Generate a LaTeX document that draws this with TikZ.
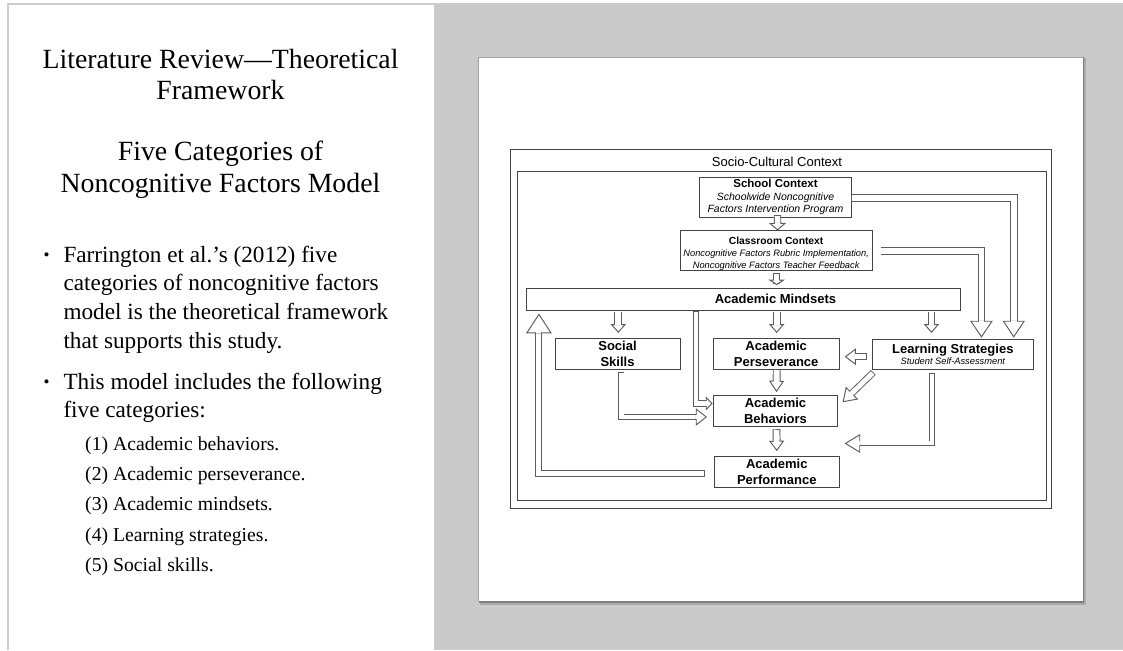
\documentclass[tikz,border=0pt]{standalone}
\usepackage{fontspec}
\setmainfont{Liberation Serif}
\newfontfamily\arial{Liberation Sans}
\usetikzlibrary{calc}
\definecolor{panelgray}{HTML}{C9CAC9}
\definecolor{framegray}{HTML}{CDCDCD}
\definecolor{boxline}{HTML}{444444}
\definecolor{arrline}{HTML}{5C5C5C}
\definecolor{shadowdark}{HTML}{7E7E7E}
\definecolor{shadowlight}{HTML}{A9AAA9}
\definecolor{pageedge}{HTML}{A4A4A4}
\tikzset{
  box/.style={draw=boxline, line width=0.9pt, inner sep=0pt, align=center,
    font=\arial\fontsize{13}{16.2}\selectfont\bfseries},
  ctx/.style={draw=boxline, line width=0.8pt, inner sep=0pt, align=center},
  ctxbox/.style={draw=boxline, line width=0.9pt, inner sep=0pt},
  shaft/.style={draw=arrline, line width=0.95pt, double=white, double distance=#1,
    line cap=rect, line join=miter},
  shaft/.default=4.5pt,
  ahead/.style={draw=arrline, fill=white, line width=0.95pt, line join=miter},
  titletext/.style={anchor=base, inner sep=0pt, font=\fontsize{27.8}{32}\selectfont},
  lefttext/.style={anchor=base west, inner sep=0pt, font=\fontsize{23.2}{28}\selectfont},
  subtext/.style={anchor=base west, inner sep=0pt, font=\fontsize{19.7}{24}\selectfont},
  bul/.style={anchor=base, inner sep=0pt, font=\fontsize{17}{17}\selectfont},
}
\newcommand\ahd[5]{%
  \coordinate (ahfrom) at #1; \coordinate (ahtip) at #2;
  \coordinate (ahbase) at ($(ahtip)!#3!(ahfrom)$);
  \filldraw[ahead] ($(ahbase)!#4!90:(ahtip)$) -- (ahtip) -- ($(ahbase)!#4!-90:(ahtip)$) -- cycle;
  \draw[white, line width=1.3pt] ($(ahbase)!0.5*#5!90:(ahtip)$) -- ($(ahbase)!0.5*#5!-90:(ahtip)$);}
\newcommand\blockarrow[5]{%
  \coordinate (batail) at #1; \coordinate (batip) at #2;
  \coordinate (babase) at ($(batip)!#3!(batail)$);
  \draw[shaft=#5] (batail) -- (babase);
  \ahd{(batail)}{(batip)}{#3}{#4}{#5}}
\begin{document}
\begin{tikzpicture}[x=1pt,y=-1pt]
\useasboundingbox (0,0) rectangle (1123,650);
\fill[white] (0,0) rectangle (1123,650);
\fill[panelgray] (434.3,3.5) rectangle (1123,650);
\draw[framegray, line width=1.6pt] (8.2,650) -- (8.2,4.2) -- (1123,4.2);
% page
\fill[shadowlight] (479.5,58) rectangle (1086,604.5);
\fill[shadowdark] (479,57.5) rectangle (1084,602.5);
\fill[white] (478.3,56.7) rectangle (1082.7,600.7);
\draw[pageedge, line width=0.6pt] (478.6,600.7) -- (478.6,57) -- (1082.7,57);
% left panel text
\node[titletext] (t1) at (220.5,68.3) {Literature Review—Theoretical};
\node[titletext] (t2) at (220.5,99.5) {Framework};
\node[titletext] (t3) at (220.5,160) {Five Categories of};
\node[titletext] (t4) at (220.5,192.5) {Noncognitive Factors Model};
\node[bul] (b1) at (46.7,262) {\raisebox{2pt}{•}};
\node[lefttext] (l1) at (63.3,262) {Farrington et al.’s (2012) five};
\node[lefttext] (l2) at (63.3,290.5) {categories of noncognitive factors};
\node[lefttext] (l3) at (63.3,319) {model is the theoretical framework};
\node[lefttext] (l4) at (63.3,348) {that supports this study.};
\node[bul] (b2) at (46.7,389) {\raisebox{2pt}{•}};
\node[lefttext] (l5) at (63.3,389) {This model includes the following};
\node[lefttext] (l6) at (63.3,417.5) {five categories:};
\node[subtext] (s1) at (85,450.3) {(1) Academic behaviors.};
\node[subtext] (s2) at (85,480.5) {(2) Academic perseverance.};
\node[subtext] (s3) at (85,510.7) {(3) Academic mindsets.};
\node[subtext] (s4) at (85,541) {(4) Learning strategies.};
\node[subtext] (s5) at (85,571) {(5) Social skills.};
% diagram frames
\node[ctxbox, minimum width=541.5, minimum height=359.2] (outer) at (780.75,328.9) {};
\node[ctxbox, minimum width=528.5, minimum height=329] (inner) at (781.75,335.5) {};
\node[anchor=base, inner sep=0pt, font=\arial\fontsize{13}{15}\selectfont] (sct) at (777,166.5) {Socio-Cultural Context};
% boxes
\node[ctx, minimum width=152.4, minimum height=40, font=\arial\fontsize{10.5}{12.6}\selectfont\itshape] (sc) at (775.5,197.3)
  {{\upshape\bfseries\fontsize{11.5}{12.6}\selectfont School Context}\\Schoolwide Noncognitive\\Factors Intervention Program};
\node[ctx, minimum width=192.3, minimum height=40.4, font=\arial\fontsize{9.3}{12.2}\selectfont\itshape] (cc) at (776.15,250.5)
  {{\upshape\bfseries\fontsize{10.3}{12.2}\selectfont\rule{0pt}{13.5pt}Classroom Context}\\Noncognitive Factors Rubric Implementation,\\Noncognitive Factors Teacher Feedback};
\node[ctx, minimum width=433.6, minimum height=21.7] (ms) at (743.5,299.15) {};
\node[anchor=base, inner sep=0pt, font=\arial\fontsize{13}{16}\selectfont\bfseries] (msl) at (775.5,303.3) {Academic Mindsets};
\node[box, minimum width=125, minimum height=31] (ss) at (617.5,353.8) {Social\\Skills};
\node[box, minimum width=125.7, minimum height=31] (ap) at (776.15,353.8) {Academic\\Perseverance};
\node[box, minimum width=161, minimum height=30] (ls) at (952.8,354.3)
  {Learning Strategies\\[-4.5pt]{\mdseries\itshape\fontsize{9.3}{11}\selectfont Student Self-Assessment}};
\node[box, minimum width=124.4, minimum height=31.4] (ab) at (775.5,411) {Academic\\Behaviors};
\node[box, minimum width=125, minimum height=31.3] (apf) at (776.8,471.65) {Academic\\Performance};
% straight block arrows
\blockarrow{($(sc.south)+(2,1.2)$)}{($(cc.north)+(1.5,0)$)}{6.5pt}{7.5pt}{5.5pt}
\blockarrow{($(cc.south)+(0.5,6)$)}{($(ms.north -| cc.south)+(0.5,-3.3)$)}{4.5pt}{6.7pt}{5.5pt}
\blockarrow{($(ss.north |- ms.south)+(0.8,5)$)}{($(ss.north)+(0.8,-5.6)$)}{7.7pt}{6.7pt}{5.9pt}
\blockarrow{($(ap.north |- ms.south)+(0.5,5)$)}{($(ap.north)+(0.5,-5.6)$)}{7.7pt}{6.7pt}{5.9pt}
\blockarrow{($(ls.north |- ms.south)+(-21.3,5)$)}{($(ls.north)+(-21.3,-6.6)$)}{7.7pt}{6.7pt}{5.9pt}
\blockarrow{($(ap.south)+(0.5,3.4)$)}{($(ab.north)+(1,-3.6)$)}{10pt}{6.7pt}{5.9pt}
\blockarrow{($(ab.south)+(1,6)$)}{($(apf.north)+(0,-5.3)$)}{9pt}{6.7pt}{5.9pt}
\blockarrow{($(ls.west)+(-8,2.4)$)}{($(ap.east)+(6,2.9)$)}{10pt}{7.5pt}{5.1pt}
\blockarrow{($(ls.south west)+(-1,5)$)}{($(ab.east)+(5,-9.3)$)}{12pt}{8pt}{4.9pt}
% bent block arrows
\draw[shaft=4.4pt] ($(ss.south)+(3.8,5.7)$) |- ($(ab.west)+(-16.6,6)$);
\ahd{($(ab.west)+(-30,6)$)}{($(ab.west)+(-6.6,6)$)}{10pt}{7.85pt}{4.4pt}
\draw[shaft=4.4pt] ($(ms.south -| ab.west)+(-17,4)$) |- ($(ab.west)+(-6.6,-7.5)$);
\ahd{($(ab.west)+(-20,-7.5)$)}{($(ab.west)+(-1,-7.5)$)}{5.6pt}{6pt}{4.4pt}
\draw[shaft=5.9pt] ($(sc.east)+(3,0.7)$) -| ($(ls.north east)+(-20,-17.6)$);
\ahd{($(ls.north east)+(-20,-40)$)}{($(ls.north east)+(-20,-2)$)}{15.6pt}{10.3pt}{5.9pt}
\draw[shaft=5.9pt] ($(cc.east)+(11.7,0.3)$) -| ($(ls.north east)+(-52.3,-17.6)$);
\ahd{($(ls.north east)+(-52.3,-40)$)}{($(ls.north east)+(-52.3,-2)$)}{15.6pt}{10.5pt}{5.9pt}
\draw[shaft=4pt] ($(ls.south)+(-21.1,6.4)$) |- ($(apf.east)+(20,-28.2)$);
\ahd{($(apf.east)+(40,-28.2)$)}{($(apf.east)+(5.7,-28.2)$)}{14.3pt}{8.7pt}{4pt}
\draw[shaft=5pt] ($(apf.west)+(-12,2.2)$) -| ($(ms.south west)+(12.6,22.4)$);
\ahd{($(ms.south west)+(12.6,40)$)}{($(ms.south west)+(12.6,4)$)}{18.4pt}{12pt}{5pt}
\end{tikzpicture}
\end{document}
